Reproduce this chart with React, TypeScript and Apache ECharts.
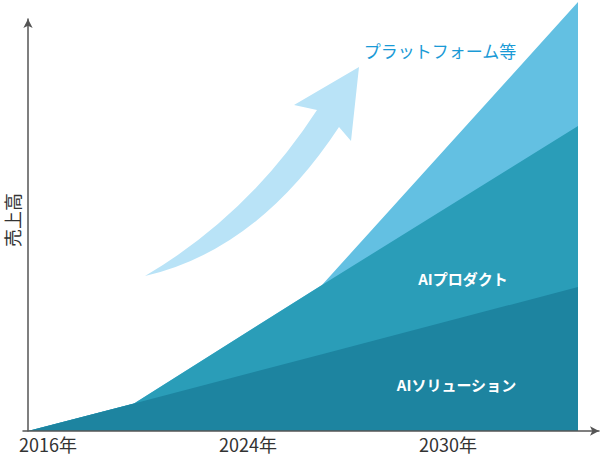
import React, { useEffect, useRef } from "react";
import * as echarts from "echarts";

// x positions (arbitrary time units) of the chart's vertices
const xPoints = [0, 5.3, 14.7, 27.5];
// stacked layers (sales, arbitrary units), bottom to top
const solutionValues = [0, 6.9, 19.2, 36];
const productValues = [0, 0, 17.3, 40.25];
const platformValues = [0, 0, 0, 31];
// x-axis tick labels and their positions
const tickPositions = [1, 11, 21];
const tickLabels = ["2016年", "2024年", "2030年"];

const seriesNames = ["AIソリューション", "AIプロダクト", "プラットフォーム等"];
const seriesColors = ["#1d84a0", "#2a9db8", "#63c0e2"];

const FONT = "'Noto Sans CJK JP', 'Noto Sans', sans-serif";

const ARROW_D =
  "M145,276 Q249,215 317,110 L294,105 L359,67 L351,141 L339,127 Q258,250 145,276 Z";

let registered = false;
function registerArrow() {
  if (registered) return;
  echarts.graphic.registerShape("growthArrow", echarts.graphic.extendPath(ARROW_D, {}));
  registered = true;
}

export default function App() {
  const ref = useRef<HTMLDivElement>(null);
  useEffect(() => {
    if (!ref.current) return;
    registerArrow();
    const chart = echarts.init(ref.current, undefined, { renderer: "svg" });
    const layers = [solutionValues, productValues, platformValues];
    // cumulative tops of each layer
    const cumulative: number[][] = [];
    layers.forEach((vals, li) => {
      cumulative.push(vals.map((v, i) => v + (li > 0 ? cumulative[li - 1][i] : 0)));
    });
    const series = layers.map((_, li) => ({
      name: seriesNames[li],
      type: "line",
      data: xPoints.map((x, i) => [x, cumulative[li][i]]),
      symbol: "none",
      clip: false,
      lineStyle: { width: 0 },
      areaStyle: { color: seriesColors[li], opacity: 1, origin: "start" },
      z: 5 - li,
    }));
    chart.setOption({
      animation: false,
      grid: {
        left: 23,
        right: 6,
        top: 19,
        bottom: 26,
        containLabel: false,
        outerBoundsMode: "none",
      },
      xAxis: {
        type: "value",
        min: -0.25,
        max: 28.55,
        splitLine: { show: false },
        axisTick: { show: false },
        axisLine: {
          show: true,
          symbol: ["none", "arrow"],
          symbolSize: [7, 9],
          lineStyle: { color: "#555", width: 1.5 },
        },
        axisLabel: {
          customValues: tickPositions,
          formatter: (v: number) => {
            const i = tickPositions.indexOf(v);
            return i >= 0 ? tickLabels[i] : "";
          },
          margin: 4,
          fontSize: 18,
          color: "#333",
          fontFamily: FONT,
          hideOverlap: false,
        },
        z: 10,
      },
      yAxis: {
        type: "value",
        min: 0,
        max: 103,
        name: "売上高",
        nameLocation: "middle",
        nameRotate: 90,
        nameGap: 2,
        nameTextStyle: {
          fontSize: 18,
          color: "#333",
          fontFamily: FONT,
          padding: [0, 0, 0, 10],
        },
        splitLine: { show: false },
        axisTick: { show: false },
        axisLabel: { show: false },
        axisLine: {
          show: true,
          symbol: ["none", "arrow"],
          symbolSize: [7, 9],
          lineStyle: { color: "#555", width: 1.5 },
        },
        z: 10,
      },
      series,
      graphic: [
        {
          type: "growthArrow",
          x: 0,
          y: 0,
          style: { fill: "#b9e3f7" },
          z: 10,
        },
        {
          type: "text",
          x: 440,
          y: 50,
          style: {
            text: seriesNames[2],
            font: `17px ${FONT}`,
            fill: "#1a9ad6",
            textAlign: "center",
            textVerticalAlign: "middle",
          },
          z: 10,
        },
        {
          type: "text",
          x: 463,
          y: 278,
          style: {
            text: seriesNames[1],
            font: `bold 15px ${FONT}`,
            fill: "#ffffff",
            textAlign: "center",
            textVerticalAlign: "middle",
          },
          z: 10,
        },
        {
          type: "text",
          x: 456.5,
          y: 384,
          style: {
            text: seriesNames[0],
            font: `bold 15px ${FONT}`,
            fill: "#ffffff",
            textAlign: "center",
            textVerticalAlign: "middle",
          },
          z: 10,
        },
      ],
    });
    return () => chart.dispose();
  }, []);
  return (
    <div
      ref={ref}
      style={{ position: "fixed", left: 0, top: 0, width: 605, height: 457, background: "#fff" }}
    />
  );
}
